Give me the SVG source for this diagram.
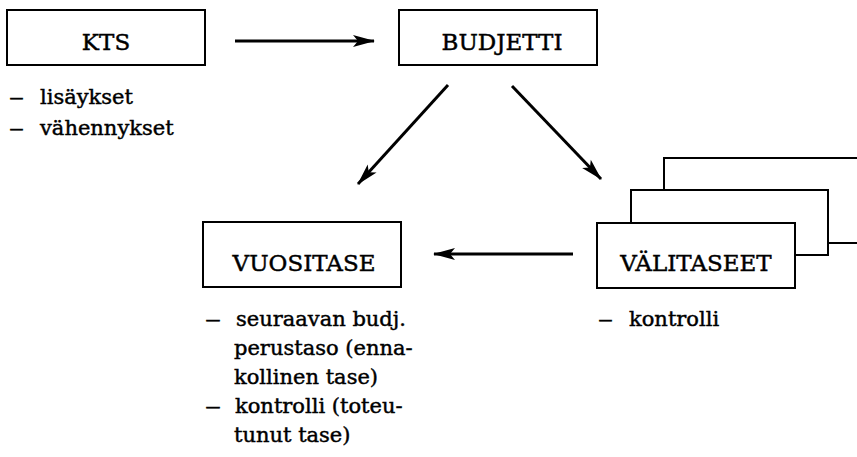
<svg xmlns="http://www.w3.org/2000/svg" width="857" height="457" viewBox="0 0 857 457">
<style>
.box{fill:#fff;stroke:#000;stroke-width:2}
.ln{fill:none;stroke:#000;stroke-width:2}
.arr{fill:none;stroke:#000;stroke-width:3}
.t{font-family:"DejaVu Serif","Liberation Serif",serif;font-size:21px;fill:#000;stroke:#000;stroke-width:0.45}
.c{text-anchor:middle;font-size:23px}
</style>
<defs>
<marker id="ah" markerUnits="userSpaceOnUse" markerWidth="26" markerHeight="16" refX="22" refY="8" orient="auto">
<path d="M23,8 L1,2 L6,8 L1,14 Z" fill="#000"/>
</marker>
</defs>
<rect width="857" height="457" fill="#fff"/>
<g id="connectors">
<line class="arr" x1="235" y1="41" x2="374" y2="41" marker-end="url(#ah)"/>
<line class="arr" x1="448" y1="85" x2="358" y2="184" marker-end="url(#ah)"/>
<line class="arr" x1="512" y1="86" x2="601" y2="179" marker-end="url(#ah)"/>
<line class="arr" x1="573" y1="254" x2="434" y2="254" marker-end="url(#ah)"/>
</g>
<g id="kts">
<rect class="box" x="7" y="10" width="198" height="55"/>
<text class="t c" x="106" y="50">KTS</text>
<text class="t" x="9" y="104" textLength="15" lengthAdjust="spacingAndGlyphs">–</text>
<text class="t" x="40" y="104">lisäykset</text>
<text class="t" x="9" y="135" textLength="15" lengthAdjust="spacingAndGlyphs">–</text>
<text class="t" x="40" y="135">vähennykset</text>
</g>
<g id="budjetti">
<rect class="box" x="399" y="10" width="198" height="55"/>
<text class="t c" x="502" y="50">BUDJETTI</text>
</g>
<g id="vuositase">
<rect class="box" x="203" y="222" width="198" height="65"/>
<text class="t c" x="304" y="271">VUOSITASE</text>
<text class="t" x="205" y="326" textLength="16" lengthAdjust="spacingAndGlyphs">–</text>
<text class="t" x="236" y="326">seuraavan budj.</text>
<text class="t" x="234" y="355">perustaso (enna-</text>
<text class="t" x="234" y="384">kollinen tase)</text>
<text class="t" x="205" y="413" textLength="16" lengthAdjust="spacingAndGlyphs">–</text>
<text class="t" x="235" y="413">kontrolli (toteu-</text>
<text class="t" x="234" y="442">tunut tase)</text>
</g>
<g id="valitaseet">
<path class="ln" d="M664,190 V158 H857 M828,243 H857"/>
<path class="ln" d="M631,223 V190 H828 V255 H795"/>
<rect class="box" x="597" y="223" width="198" height="65"/>
<text class="t c" x="696" y="271">VÄLITASEET</text>
<text class="t" x="598" y="326" textLength="15" lengthAdjust="spacingAndGlyphs">–</text>
<text class="t" x="629" y="326">kontrolli</text>
</g>
</svg>
